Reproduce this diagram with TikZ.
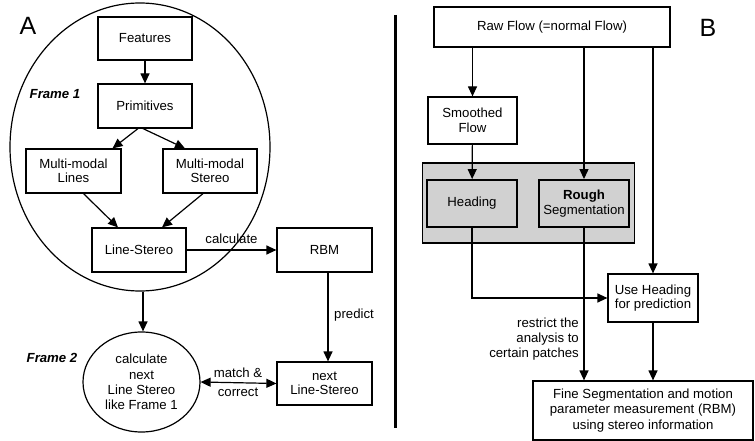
\documentclass[tikz,border=0pt]{standalone}
\usepackage{fontspec}
\setmainfont{Liberation Sans}
\usetikzlibrary{arrows.meta,calc,shapes.geometric}
\begin{document}
\begin{tikzpicture}[x=1pt,y=-1pt,
  font=\fontsize{13.2}{14.5}\selectfont,
  box/.style={draw,line width=1.2pt,rectangle,align=center,inner sep=0pt},
  arr/.style={line width=1.2pt,-{Triangle[length=10pt,width=9pt]}},
  darr/.style={line width=1.2pt,{Triangle[length=10pt,width=9pt]}-{Triangle[length=10pt,width=9pt]}},
  lbl/.style={inner sep=0pt,align=center},
  frm/.style={inner sep=0pt,font=\fontsize{13.2}{14.5}\selectfont\bfseries\itshape},
  big/.style={inner sep=0pt,font=\fontsize{25}{28}\selectfont}]
\useasboundingbox (0,0) rectangle (755,441);
% panel A
\node[big] (A) at (28,26) {A};
\node[draw,line width=1.2pt,ellipse,minimum width=260pt,minimum height=288pt,inner sep=0pt] (f1) at (140,147) {};
\node[box,minimum width=94pt,minimum height=43pt] (feat) at (145,38.5) {Features};
\node[box,minimum width=94pt,minimum height=44pt] (prim) at (145,106) {Primitives};
\node[box,minimum width=95pt,minimum height=44pt] (mml) at (73.5,171) {Multi-modal\\Lines};
\node[box,minimum width=94pt,minimum height=44pt] (mms) at (210,171) {Multi-modal\\Stereo};
\node[box,minimum width=94pt,minimum height=44pt] (ls) at (139,250) {Line-Stereo};
\node[box,minimum width=95pt,minimum height=44pt] (rbm) at (324.5,250) {RBM};
\node[box,minimum width=95pt,minimum height=43pt] (nls) at (324.5,383.5) {next\\Line-Stereo};
\node[draw,line width=1.2pt,ellipse,minimum width=117pt,minimum height=100pt,inner sep=0pt,align=center,font=\fontsize{13.2}{15.2}\selectfont] (f2) at (141.5,382) {calculate\\next\\Line Stereo\\like Frame 1};
\node[frm] (fr1) at (55,94) {Frame 1};
\node[frm] (fr2) at (52,358) {Frame 2};
\draw[arr] (feat) -- (prim);
\draw[arr] ($(prim.south)+(-7,0)$) -- ($(mml.north)+(39,0)$);
\draw[arr] ($(prim.south)+(-2,0)$) -- ($(mms.north)+(-25,0)$);
\draw[arr] ($(mml.south)+(10,0)$) -- ($(ls.north)+(-21,0)$);
\draw[arr] ($(mms.south)+(-7,0)$) -- ($(ls.north)+(23,0)$);
\draw[arr] (ls) -- node[lbl,above=6pt] (calc) {calculate} (rbm);
\draw[arr] ($(f1.south)+(3,0)$) -- ($(f2.north)+(1.5,0)$);
\draw[arr] ($(rbm.south)+(3.5,0)$) -- ($(nls.north)+(3.5,0)$);
\node[lbl,anchor=west] (pred) at (334,315) {predict};
\draw[darr] (f2.east) -- (nls.west);
\node[lbl] (mt) at (238,373) {match \&};
\node[lbl] (co) at (238,392) {correct};
% separator
\coordinate (s1) at (395,15);
\coordinate (s2) at (395,428);
\draw[line width=3pt] (s1) -- (s2);
% panel B
\node[big] (B) at (708,28) {B};
\node[box,minimum width=236pt,minimum height=40pt] (raw) at (552,27) {Raw Flow (=normal Flow)};
\node[box,minimum width=89pt,minimum height=47pt] (smooth) at (472.5,120.5) {Smoothed\\Flow};
\node[draw,line width=1.2pt,fill=black!18,minimum width=212pt,minimum height=80pt,inner sep=0pt] (gray) at (528.5,203) {};
\node[box,line width=1.9pt,minimum width=90pt,minimum height=47pt] (head) at (472,203.5) {Heading};
\node[box,line width=1.9pt,minimum width=90pt,minimum height=47pt] (rough) at (584,203.5) {\bfseries Rough\\Segmentation};
\node[box,minimum width=90pt,minimum height=48pt] (use) at (653,298) {Use Heading\\for prediction};
\node[box,minimum width=220pt,minimum height=59pt,font=\fontsize{13.2}{15.2}\selectfont] (fine) at (643,410.5) {Fine Segmentation and motion\\parameter measurement (RBM)\\using stereo information};
\draw[arr] (raw.south -| smooth) -- (smooth.north);
\draw[arr] (smooth) -- (head);
\draw[arr] (raw.south -| rough) -- (rough.north);
\draw[arr] (raw.south -| use) -- (use.north);
\draw[arr] (head.south) |- (use.west);
\draw[arr] (rough.south) -- (rough.south |- fine.north);
\draw[arr] (use.south) -- (use.south |- fine.north);
\node[lbl,align=right,anchor=east,font=\fontsize{13.2}{15}\selectfont] (restr) at (579,339) {restrict the\\analysis to\\certain patches};
\end{tikzpicture}
\end{document}
